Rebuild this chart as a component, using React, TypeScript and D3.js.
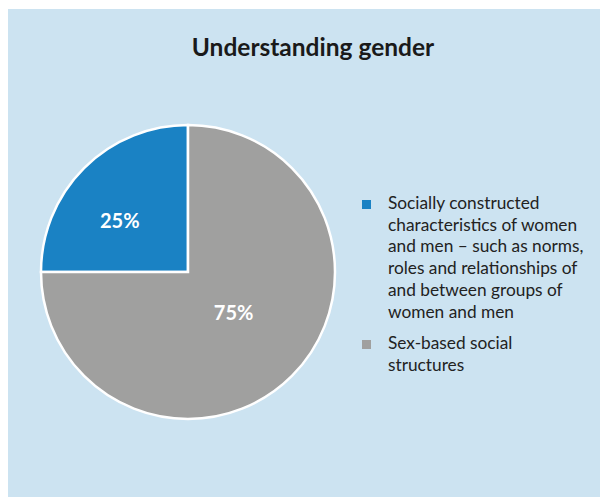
import React from "react";
import * as d3 from "d3";

const categories = [
  "Socially constructed characteristics of women and men – such as norms, roles and relationships of and between groups of women and men",
  "Sex-based social structures",
];
const values = [25, 75];
const colors = ["#1a82c4", "#a0a09f"];
const legendLines = [
  ["Socially constructed", "characteristics of women", "and men – such as norms,", "roles and relationships of", "and between groups of", "women and men"],
  ["Sex-based social", "structures"],
];
const title = "Understanding gender";
const labelRadiusFactor = [0.58, 0.42];
const labelNudge = [[-8, 8], [2, -4]];

export default function App() {
  const W = 600, H = 497;
  const cx = 188, cy = 272, r = 147;
  const pie = d3.pie<number>().sort(null).value((d) => d)
    .startAngle(-Math.PI / 2).endAngle((3 * Math.PI) / 2);
  const arcs = pie(values);
  const arc = d3.arc<d3.PieArcDatum<number>>().innerRadius(0).outerRadius(r);
  const font = "Lato, 'Open Sans', sans-serif";
  return (
    <svg width={W} height={H} style={{ position: "absolute", left: 0, top: 0 }}>
      <rect x={0} y={0} width={W} height={H} fill="#ffffff" />
      <rect x={8} y={9} width={W - 8} height={H - 9} fill="#cce3f1" />
      <text x={313} y={56} textAnchor="middle" fontFamily={font} fontWeight="bold" fontSize={24.5} fill="#1a1a1a">
        {title}
      </text>
      <g transform={`translate(${cx},${cy})`}>
        {arcs.map((a, i) => (
          <path key={i} d={arc(a) || ""} fill={colors[i]} stroke="#ffffff" strokeWidth={2.5} />
        ))}
        {arcs.map((a, i) => {
          const rr = r * labelRadiusFactor[i];
          const la = d3.arc<d3.PieArcDatum<number>>().innerRadius(rr).outerRadius(rr);
          const [lx, ly] = la.centroid(a);
          return (
            <text key={"l" + i} x={lx + labelNudge[i][0]} y={ly + labelNudge[i][1]} textAnchor="middle" dominantBaseline="central"
              fontFamily={font} fontWeight="bold" fontSize={20} fill="#ffffff">
              {values[i]}%
            </text>
          );
        })}
      </g>
      {legendLines.map((lines, i) => {
        const startY = i === 0 ? 209 : 349;
        return (
          <g key={"g" + i}>
            <rect x={362} y={startY - 9} width={9} height={9} fill={colors[i]} />
            {lines.map((ln, j) => (
              <text key={j} x={388} y={startY + j * 21.7} fontFamily={font} fontSize={17.3} fill="#222222">
                {ln}
              </text>
            ))}
          </g>
        );
      })}
    </svg>
  );
}
